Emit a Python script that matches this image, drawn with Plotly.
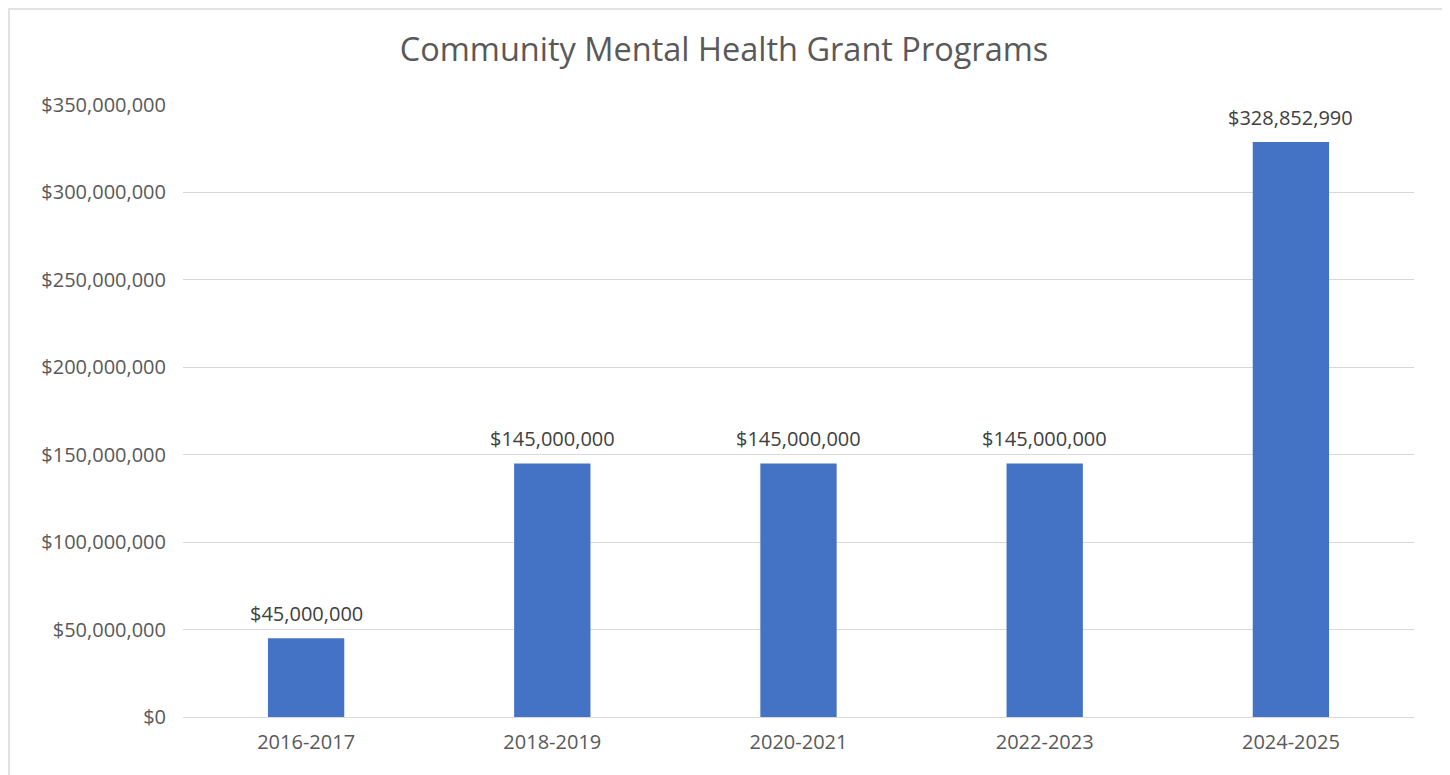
import plotly.graph_objects as go

categories = ["2016-2017", "2018-2019", "2020-2021", "2022-2023", "2024-2025"]
values = [45000000, 145000000, 145000000, 145000000, 328852990]
labels = ["$45,000,000", "$145,000,000", "$145,000,000", "$145,000,000", "$328,852,990"]
tick_vals = [0, 50000000, 100000000, 150000000, 200000000, 250000000, 300000000, 350000000]
tick_text = ["$0", "$50,000,000", "$100,000,000", "$150,000,000", "$200,000,000",
             "$250,000,000", "$300,000,000", "$350,000,000"]

FONT = "Open Sans, Noto Sans, sans-serif"
W, H = 1450, 775
L, R, T, B = 175, 44, 97, 66
pw, ph = W - L - R, H - T - B

fig = go.Figure(go.Bar(
    x=categories, y=values,
    marker=dict(color="#4472C4", line=dict(width=0)),
    width=0.31, hoverinfo="x+y",
))

for c, v, t in zip(categories, values, labels):
    fig.add_annotation(x=c, y=v, text=t, showarrow=False, yanchor="bottom",
                       yshift=9, font=dict(family=FONT, size=20, color="#404040"))

def px_x(p):
    return (p - L) / pw

def px_y(p):
    return 1 - (p - T) / ph

fig.add_shape(type="rect", xref="paper", yref="paper",
              x0=px_x(1), x1=px_x(1435), y0=px_y(790), y1=px_y(1),
              line=dict(color="#D9D9D9", width=1.5), layer="below")

fig.update_layout(
    width=W, height=H,
    margin=dict(l=L, r=R, t=T, b=B),
    paper_bgcolor="white", plot_bgcolor="white",
    title=dict(text="Community Mental Health Grant Programs", x=716 / W, xref="container",
               xanchor="center", y=1 - 42 / H, yanchor="middle",
               font=dict(family=FONT, size=32.5, color="#595959")),
    showlegend=False,
    font=dict(family=FONT, size=20, color="#595959"),
    xaxis=dict(showgrid=False, showline=False, ticks="", ticklabelstandoff=11,
               tickfont=dict(family=FONT, size=20, color="#595959")),
    yaxis=dict(range=[0, 350000000], tickvals=tick_vals, ticktext=tick_text,
               showgrid=True, gridcolor="#D9D9D9", gridwidth=1.3, zeroline=True,
               zerolinecolor="#D9D9D9", zerolinewidth=1.3, showline=False,
               ticks="", ticklabelstandoff=16,
               tickfont=dict(family=FONT, size=20, color="#595959")),
)

fig.write_html("out.html")
